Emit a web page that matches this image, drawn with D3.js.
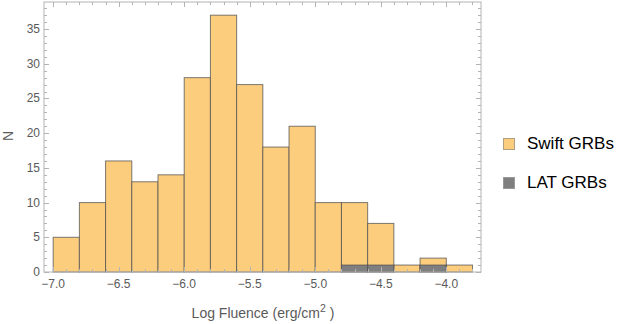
<!DOCTYPE html>
<html><head><meta charset="utf-8">
<script src="https://cdn.jsdelivr.net/npm/d3@7"></script>
<style>body{margin:0;background:#fff}svg{display:block;font-family:"Liberation Sans",Arial,sans-serif}</style>
</head><body>
<svg id="c" width="623" height="324"></svg>
<script>
const binStarts = [-7.0,-6.8,-6.6,-6.4,-6.2,-6.0,-5.8,-5.6,-5.4,-5.2,-5.0,-4.8,-4.6,-4.4,-4.2,-4.0];
const binWidth = 0.2;
const swiftCounts = [5,10,16,13,14,28,37,27,18,21,10,10,7,1,2,1];
const latCounts   = [0,0,0,0,0,0,0,0,0,0,0,1,1,0,1,0];
const xTicks = [-7.0,-6.5,-6.0,-5.5,-5.0,-4.5,-4.0];
const yTicks = [0,5,10,15,20,25,30,35];
const seriesNames = ["Swift GRBs","LAT GRBs"];
const seriesColors = ["#fdcd7e","#7f7f7f"];

const svg = d3.select("#c");
const L=44, R=481, T=2, B=272;
const x = d3.scaleLinear().domain([-7.07,-3.735]).range([L,R]);
const y = d3.scaleLinear().domain([0,38.9]).range([B,T]);
const axisCol = "#b4b4b4", labCol = "#5a5a5a";

// bars
const g = svg.append("g");
g.selectAll("rect.s").data(binStarts).join("rect")
  .attr("x",d=>x(d)).attr("width",(d)=>x(d+binWidth)-x(d))
  .attr("y",(d,i)=>y(swiftCounts[i])).attr("height",(d,i)=>y(0)-y(swiftCounts[i]))
  .attr("fill",seriesColors[0]).attr("stroke","rgba(80,80,80,0.75)").attr("stroke-width",1);
g.selectAll("rect.l").data(binStarts.filter((d,i)=>latCounts[i]>0)).join("rect")
  .attr("x",d=>x(d)).attr("width",(d)=>x(d+binWidth)-x(d))
  .attr("y",d=>y(latCounts[binStarts.indexOf(d)])).attr("height",d=>y(0)-y(latCounts[binStarts.indexOf(d)]))
  .attr("fill",seriesColors[1]).attr("stroke","rgba(80,80,80,0.75)").attr("stroke-width",1);

// frame
svg.append("rect").attr("x",L).attr("y",T).attr("width",R-L).attr("height",B-T)
  .attr("fill","none").attr("stroke",axisCol).attr("stroke-width",1);

// ticks
const xMinor = d3.range(-70,-37).map(v=>v/10);
const yMinor = d3.range(0,39);
const tk = svg.append("g").attr("stroke",axisCol).attr("stroke-width",1);
xMinor.forEach(v=>{
  const maj = Math.abs(v*2-Math.round(v*2))<1e-6;
  const len = maj?5:3;
  const px = Math.round(x(v))+0.5;
  tk.append("line").attr("x1",px).attr("x2",px).attr("y1",B).attr("y2",B-len);
  tk.append("line").attr("x1",px).attr("x2",px).attr("y1",T).attr("y2",T+len);
});
yMinor.forEach(v=>{
  const maj = v%5===0;
  const len = maj?5:3;
  const py = Math.round(y(v))+0.5;
  tk.append("line").attr("x1",L).attr("x2",L+len).attr("y1",py).attr("y2",py);
  tk.append("line").attr("x1",R).attr("x2",R-len).attr("y1",py).attr("y2",py);
});
const fmt = v=>(v<0?"\u2212":"")+Math.abs(v).toFixed(1);
svg.append("g").selectAll("text").data(xTicks).join("text")
  .attr("x",d=>x(d)).attr("y",B+16).attr("text-anchor","middle")
  .attr("font-size",12).attr("fill",labCol).text(fmt);
svg.append("g").selectAll("text").data(yTicks).join("text")
  .attr("x",L-4).attr("y",d=>y(d)+4).attr("text-anchor","end")
  .attr("font-size",12).attr("fill",labCol).text(d=>d);

// axis titles
const xt = svg.append("text").attr("x",263).attr("y",318).attr("text-anchor","middle")
  .attr("font-size",14).attr("fill",labCol);
xt.append("tspan").text("Log Fluence (erg/cm");
xt.append("tspan").attr("dy",-6).attr("font-size",10.5).text("2");
xt.append("tspan").attr("dy",6).text(" )");
svg.append("text").attr("transform","translate(13,136) rotate(-90)").attr("text-anchor","middle")
  .attr("font-size",14).attr("fill",labCol).text("N");

// legend
const leg = svg.append("g");
seriesNames.forEach((n,i)=>{
  const yy = 138 + i*39;
  leg.append("rect").attr("x",503.5).attr("y",yy+0.5).attr("width",11).attr("height",11)
    .attr("fill",seriesColors[i]).attr("stroke",i===0?"#b0a080":"#999").attr("stroke-width",1);
  leg.append("text").attr("x",527).attr("y",yy+11).attr("font-size",17).attr("fill","#000").text(n);
});
</script>
</body></html>
